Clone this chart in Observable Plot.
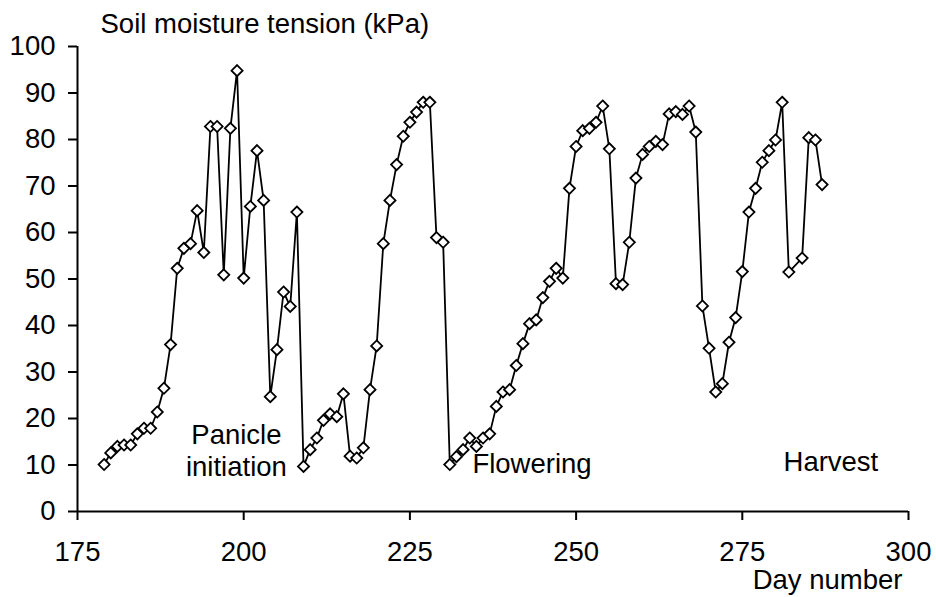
<!DOCTYPE html>
<html>
<head>
<meta charset="utf-8">
<script src="https://cdn.jsdelivr.net/npm/d3@7"></script>
<script src="https://cdn.jsdelivr.net/npm/@observablehq/plot@0.6"></script>
<style>
  html, body { margin: 0; padding: 0; background: #fff; }
  #chart svg { display: block; }
</style>
</head>
<body>
<div id="chart"></div>
<script>
// Day numbers and soil moisture tension (kPa)
const days = [
  179,180,181,182,183,184,185,186,187,188,189,190,191,192,193,194,195,196,197,198,
  199,200,201,202,203,204,205,206,207,208,209,210,211,212,213,214,215,216,217,218,
  219,220,221,222,223,224,225,226,227,228,229,230,231,232,233,234,235,236,237,238,
  239,240,241,242,243,244,245,246,247,248,249,250,251,252,253,254,255,256,257,258,
  259,260,261,262,263,264,265,266,267,268,269,270,271,272,273,274,275,276,277,278,
  279,280,281,282,284,285,286,287
];
const tension = [
  10.1,12.6,14.0,14.3,14.3,16.7,17.9,17.9,21.4,26.5,35.9,52.3,56.6,57.6,64.7,55.7,82.8,82.8,50.9,82.4,
  94.8,50.2,65.6,77.6,66.9,24.7,34.8,47.2,44.1,64.4,9.7,13.3,15.8,19.6,21.0,20.4,25.3,11.9,11.5,13.7,
  26.2,35.6,57.6,66.9,74.6,80.7,83.7,85.9,88.0,88.0,58.9,57.9,10.1,11.8,13.3,15.8,14.0,15.8,16.7,22.6,
  25.7,26.2,31.4,36.1,40.4,41.2,46.0,49.5,52.3,50.2,69.5,78.5,81.9,82.4,83.7,87.2,78.0,49.0,48.8,57.9,
  71.7,76.8,78.5,79.6,78.9,85.5,86.0,85.4,87.2,81.6,44.2,35.1,25.7,27.5,36.4,41.7,51.6,64.4,69.5,75.1,
  77.6,79.9,88.0,51.5,54.5,80.4,79.9,70.3
];

// Axis ticks
const xTicks = [175, 200, 225, 250, 275, 300];
const yTicks = [0, 10, 20, 30, 40, 50, 60, 70, 80, 90, 100];

// Stage annotations
const stageLabels = ["Panicle\ninitiation", "Flowering", "Harvest"];
const stageDays = [198.9, 234.4, 281.2];
const stageValues = [7.7, 8.2, 8.8];
const stageAnchors = ["middle", "start", "start"];

const titleText = "Soil moisture tension (kPa)";
const xLabelText = "Day number";

const data = days.map((d, i) => ({day: d, value: tension[i]}));
const stages = stageLabels.map((s, i) => ({label: s, day: stageDays[i], value: stageValues[i], anchor: stageAnchors[i]}));

const FONT = "Liberation Sans, Arial, Helvetica, sans-serif";
const FS = 27.5;

const chart = Plot.plot({
  width: 936,
  height: 597,
  marginLeft: 77,
  marginRight: 28,
  marginTop: 46,
  marginBottom: 86,
  style: {fontFamily: FONT, fontSize: FS + "px", color: "#000", background: "#fff", overflow: "visible"},
  x: {domain: [175, 300]},
  y: {domain: [0, 100]},
  marks: [
    Plot.axisX({ticks: xTicks, tickSize: 9, tickPadding: 21, strokeWidth: 2, fontSize: FS, label: null}),
    Plot.axisY({ticks: yTicks, tickSize: 9, tickPadding: 13, strokeWidth: 2, fontSize: FS, label: null}),
    Plot.ruleY([0], {stroke: "#000", strokeWidth: 2}),
    Plot.ruleX([175], {stroke: "#000", strokeWidth: 2}),
    Plot.line(data, {x: "day", y: "value", stroke: "#000", strokeWidth: 1.8}),
    Plot.dot(data, {x: "day", y: "value", symbol: "diamond2", r: 5, fill: "#fff", stroke: "#000", strokeWidth: 1.8}),
    Plot.text(stages.filter(d => d.anchor === "middle"), {x: "day", y: "value", text: "label", textAnchor: "middle", lineAnchor: "bottom", lineHeight: 1.16, fontSize: FS, fill: "#000"}),
    Plot.text(stages.filter(d => d.anchor === "start"), {x: "day", y: "value", text: "label", textAnchor: "start", lineAnchor: "bottom", lineHeight: 1.16, fontSize: FS, fill: "#000"}),
    Plot.text([titleText], {frameAnchor: "top-left", dx: 23, dy: -14, textAnchor: "start", lineAnchor: "bottom", fontSize: FS, fill: "#000"}),
    Plot.text([xLabelText], {frameAnchor: "bottom-right", dx: -6, dy: 77, textAnchor: "end", lineAnchor: "bottom", fontSize: FS, fill: "#000"})
  ]
});
document.getElementById("chart").appendChild(chart);
</script>
</body>
</html>
